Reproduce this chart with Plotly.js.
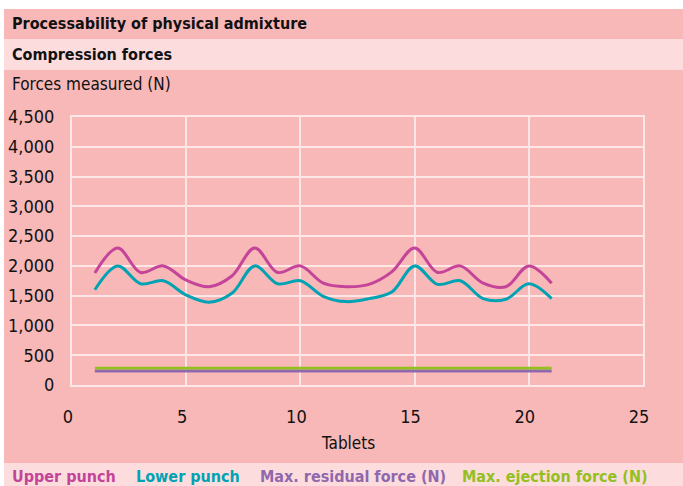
<!DOCTYPE html>
<html>
<head>
<meta charset="utf-8">
<script src="https://cdn.plot.ly/plotly-3.0.1.min.js"></script>
<style>html,body{margin:0;padding:0;background:#fff;}#chart{width:683px;height:486px;}</style>
</head>
<body>
<div id="chart"></div>
<script>
// ---- data ----
const tablets = [1,2,3,4,5,6,7,8,9,10,11,12,13,14,15,16,17,18,19,20,21];
const upperPunch = [1880,2300,1890,2000,1760,1650,1830,2300,1890,2000,1710,1650,1690,1900,2300,1890,2000,1710,1650,2000,1710];
const lowerPunch = [1600,2000,1700,1750,1510,1390,1540,2000,1700,1750,1490,1400,1450,1560,2000,1690,1750,1450,1440,1700,1450];
const residualForce = [235,235,235,235,235,235,235,235,235,235,235,235,235,235,235,235,235,235,235,235,235];
const ejectionForce = [285,285,285,285,285,285,285,285,285,285,285,285,285,285,285,285,285,285,285,285,285];
const seriesNames = ["Upper punch","Lower punch","Max. residual force (N)","Max. ejection force (N)"];
const seriesColors = ["#c4449a","#00a3b3","#9068ad","#93c01f"];
const titleText = "Processability of physical admixture";
const subtitleText = "Compression forces";
const yAxisLabel = "Forces measured (N)";
const xAxisLabel = "Tablets";
const xTicks = [0,5,10,15,20,25];
const yTicks = [0,500,1000,1500,2000,2500,3000,3500,4000,4500];
const yTickText = ["0","500","1,000","1,500","2,000","2,500","3,000","3,500","4,000","4,500"];

// ---- layout helpers (pixel -> paper) ----
const W = 683, H = 486;
const M = {l:72, r:40, t:117, b:101};
const PW = W - M.l - M.r, PH = H - M.t - M.b;
const px = x => (x - M.l) / PW;
const py = y => (H - M.b - y) / PH;

const PINK = "#f8b8b8", LIGHT = "#fddcdd", GRID = "#fde6e6";
const FONT = "DejaVu Sans Condensed, sans-serif";
const HEAD = {family:"DejaVu Sans Condensed, sans-serif", weight:700, size:16, color:"#111"};

const traces = [
  {x:tablets, y:upperPunch, name:seriesNames[0], mode:"lines", line:{color:seriesColors[0], width:3, shape:"spline", smoothing:1}},
  {x:tablets, y:lowerPunch, name:seriesNames[1], mode:"lines", line:{color:seriesColors[1], width:3, shape:"spline", smoothing:1}},
  {x:tablets, y:residualForce, name:seriesNames[2], mode:"lines", line:{color:seriesColors[2], width:2.8}},
  {x:tablets, y:ejectionForce, name:seriesNames[3], mode:"lines", line:{color:seriesColors[3], width:2.8}}
];

const shapes = [
  {type:"rect", xref:"paper", yref:"paper", x0:px(0), x1:px(W), y0:py(0), y1:py(9), fillcolor:"#ffffff", line:{width:0}, layer:"above"},
  {type:"rect", xref:"paper", yref:"paper", x0:px(0), x1:px(4), y0:py(0), y1:py(H), fillcolor:"#ffffff", line:{width:0}, layer:"above"},
  {type:"rect", xref:"paper", yref:"paper", x0:px(4), x1:px(W), y0:py(39), y1:py(70), fillcolor:LIGHT, line:{width:0}, layer:"below"},
  {type:"rect", xref:"paper", yref:"paper", x0:px(4), x1:px(W), y0:py(463), y1:py(H), fillcolor:LIGHT, line:{width:0}, layer:"below"}
];

const legendX = [10, 134, 258, 460];
const annotations = [
  {text:titleText, x:px(10), y:py(23), xref:"paper", yref:"paper", xanchor:"left", yanchor:"middle", showarrow:false, font:HEAD},
  {text:subtitleText, x:px(10), y:py(54), xref:"paper", yref:"paper", xanchor:"left", yanchor:"middle", showarrow:false, font:HEAD},
  {text:yAxisLabel, x:px(10), y:py(84), xref:"paper", yref:"paper", xanchor:"left", yanchor:"middle", showarrow:false, font:{family:FONT, size:17, color:"#111"}},
  {text:xAxisLabel, x:px(348), y:py(443), xref:"paper", yref:"paper", xanchor:"center", yanchor:"middle", showarrow:false, font:{family:FONT, size:17, color:"#111"}}
];
seriesNames.forEach((n,i) => annotations.push({
  text:"<b>"+n+"</b>", x:px(legendX[i]), y:py(476), xref:"paper", yref:"paper", xanchor:"left", yanchor:"middle", showarrow:false,
  font:{family:FONT, size:16, color:seriesColors[i]}
}));

const layout = {
  width:W, height:H, margin:M,
  paper_bgcolor:PINK, plot_bgcolor:PINK,
  showlegend:false,
  font:{family:FONT, size:18, color:"#111"},
  xaxis:{range:[0,25], tickvals:xTicks, showgrid:true, gridcolor:GRID, gridwidth:2, zeroline:false,
         showline:true, mirror:true, linecolor:GRID, linewidth:2,
         ticks:"", ticklabelstandoff:14, ticklabelshift:-4, tickfont:{family:FONT, size:18, color:"#111"}, fixedrange:true},
  yaxis:{range:[0,4500], tickvals:yTicks, ticktext:yTickText, showgrid:true, gridcolor:GRID, gridwidth:2, zeroline:false,
         showline:true, mirror:true, linecolor:GRID, linewidth:2,
         ticks:"", ticklabelstandoff:12, tickfont:{family:FONT, size:18, color:"#111"}, fixedrange:true},
  shapes:shapes, annotations:annotations
};

Plotly.newPlot("chart", traces, layout, {displayModeBar:false, staticPlot:true});
</script>
</body>
</html>
